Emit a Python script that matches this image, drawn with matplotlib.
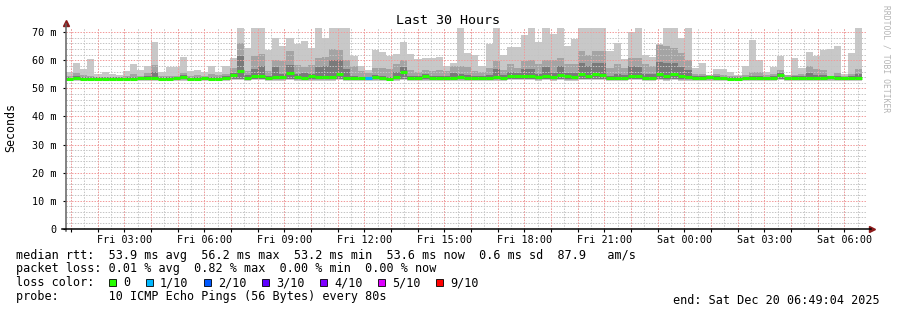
import numpy as np
import matplotlib
matplotlib.use('Agg')
import matplotlib.pyplot as plt
from matplotlib.patches import Rectangle

plt.rcParams['font.family'] = ['DejaVu Sans Mono', 'DejaVu Sans']

# --- data: one bar every 16 minutes, first bar at Fri 00:49:04 ---
# top of the smoke (slowest ping) in ms
max_rtt = [
    56.0, 59.0, 56.9, 60.5, 55.0, 56.0, 55.0, 54.8, 56.2, 58.8,
    56.6, 58.1, 66.6, 56.0, 57.5, 57.5, 61.2, 56.2, 56.6, 56.0,
    57.9, 55.8, 58.1, 60.7, 72.0, 64.5, 72.0, 72.0, 63.6, 68.1,
    65.2, 68.1, 65.7, 66.9, 64.3, 72.0, 68.1, 72.0, 72.0, 72.0,
    61.7, 57.9, 56.7, 63.8, 62.9, 61.7, 62.1, 66.4, 62.1, 60.5,
    61.0, 60.7, 61.2, 58.1, 59.0, 72.0, 62.6, 61.9, 57.9, 65.9,
    72.0, 61.9, 64.8, 64.8, 69.0, 72.0, 66.6, 72.0, 69.3, 72.0,
    65.0, 67.6, 72.0, 72.0, 72.0, 72.0, 63.3, 66.2, 60.5, 70.2,
    72.0, 61.9, 61.2, 65.9, 72.0, 72.0, 68.1, 72.0, 57.4, 59.0,
    54.8, 56.9, 56.9, 55.7, 54.8, 57.9, 67.4, 60.0, 56.0, 57.6,
    61.7, 54.8, 61.0, 57.4, 63.1, 61.4, 63.8, 64.0, 65.2, 55.0,
    62.6, 72.0,
]
# top of the second smoke band
mid_rtt = [
    54.5, 55.5, 54.6, 54.5, 54.0, 54.2, 54.0, 54.0, 54.5, 55.0,
    54.5, 55.5, 58.2, 54.3, 54.5, 54.5, 55.5, 54.5, 54.6, 54.3,
    55.0, 54.8, 55.3, 57.4, 66.0, 56.2, 61.7, 62.1, 56.2, 60.2,
    59.8, 63.3, 58.3, 57.6, 58.3, 60.9, 61.2, 64.0, 63.6, 60.2,
    58.0, 56.2, 55.5, 57.4, 57.2, 57.0, 58.6, 60.0, 56.6, 56.0,
    56.6, 56.2, 56.7, 56.2, 58.0, 58.1, 57.6, 56.2, 56.0, 57.4,
    59.8, 56.6, 58.6, 57.2, 59.8, 60.0, 58.8, 60.2, 60.2, 61.0,
    58.6, 58.6, 63.3, 61.9, 63.3, 63.3, 57.4, 58.6, 57.2, 61.0,
    61.0, 58.6, 58.1, 65.4, 65.0, 64.5, 62.6, 60.2, 55.3, 55.3,
    54.8, 55.3, 54.8, 54.5, 54.3, 54.8, 56.0, 56.0, 54.8, 55.0,
    56.6, 54.8, 54.8, 55.0, 58.0, 57.0, 56.6, 54.5, 55.5, 54.5,
    55.0, 56.8,
]
# top of the dark inner smoke band
inner_rtt = [
    54.0, 54.3, 54.0, 54.0, 53.9, 54.0, 53.9, 53.9, 54.0, 54.2,
    54.1, 54.4, 56.0, 54.0, 53.9, 54.1, 54.6, 53.9, 54.1, 54.2,
    54.2, 54.1, 54.3, 55.5, 61.5, 54.6, 57.0, 58.0, 54.4, 57.5,
    55.0, 58.5, 55.0, 55.5, 55.2, 57.5, 58.0, 60.0, 60.0, 57.0,
    54.5, 54.2, 54.2, 54.8, 54.4, 54.2, 56.0, 57.5, 54.3, 54.3,
    55.0, 54.3, 54.4, 54.3, 55.5, 55.0, 54.6, 54.3, 54.3, 54.6,
    57.0, 54.6, 56.0, 55.4, 57.0, 57.0, 55.0, 57.5, 55.5, 58.0,
    55.5, 55.5, 59.0, 58.0, 59.0, 59.0, 54.5, 55.0, 54.8, 58.0,
    57.5, 55.0, 55.0, 59.5, 59.0, 59.0, 57.5, 56.5, 54.4, 54.3,
    54.4, 54.3, 54.2, 54.0, 54.0, 54.2, 54.5, 54.5, 54.2, 54.3,
    55.5, 54.2, 54.3, 54.3, 55.5, 54.8, 54.6, 54.5, 54.3, 54.2,
    54.4, 55.2,
]
# bottom of the smoke (fastest ping)
min_rtt = [
    52.7, 52.8, 52.6, 52.6, 52.6, 52.6, 52.6, 52.7, 52.7, 52.7,
    52.8, 52.7, 52.7, 52.7, 52.6, 52.7, 52.8, 52.6, 52.7, 52.8,
    52.7, 52.7, 52.7, 52.9, 53.0, 52.8, 52.9, 52.9, 52.7, 52.8,
    52.8, 53.0, 52.8, 52.7, 52.8, 52.8, 52.8, 52.8, 52.9, 52.7,
    52.7, 52.7, 52.7, 52.8, 52.7, 52.6, 52.8, 53.0, 52.7, 52.7,
    52.8, 52.7, 52.7, 52.7, 52.7, 52.8, 52.8, 52.7, 52.7, 52.7,
    52.8, 52.8, 52.9, 52.9, 52.9, 52.9, 52.8, 52.9, 52.8, 52.9,
    52.8, 52.8, 53.0, 52.9, 53.0, 52.9, 52.7, 52.8, 52.8, 52.9,
    52.9, 52.8, 52.8, 52.9, 52.8, 52.9, 52.8, 52.8, 52.8, 52.7,
    52.7, 52.7, 52.7, 52.6, 52.6, 52.7, 52.7, 52.7, 52.7, 52.7,
    52.9, 52.7, 52.7, 52.7, 52.7, 52.7, 52.7, 52.8, 52.7, 52.7,
    52.7, 52.7,
]
# median rtt in ms
median_rtt = [
    53.4, 53.7, 53.4, 53.4, 53.4, 53.4, 53.4, 53.5, 53.5, 53.5,
    53.6, 53.6, 53.6, 53.5, 53.3, 53.6, 54.0, 53.3, 53.5, 53.7,
    53.5, 53.5, 53.6, 54.7, 56.1, 53.8, 54.4, 54.4, 53.6, 54.0,
    53.9, 55.4, 54.0, 53.6, 54.3, 54.0, 53.9, 53.9, 55.0, 53.6,
    53.6, 53.6, 53.6, 53.9, 53.6, 53.4, 54.0, 56.0, 53.6, 53.6,
    54.3, 53.6, 53.6, 53.6, 53.6, 53.9, 53.8, 53.6, 53.6, 53.6,
    54.0, 53.8, 54.5, 54.5, 54.5, 54.5, 53.9, 54.5, 54.2, 54.8,
    54.3, 54.2, 55.3, 54.5, 55.3, 54.8, 53.6, 53.8, 53.8, 54.5,
    54.5, 53.8, 53.8, 55.0, 54.3, 55.3, 54.4, 54.2, 53.8, 53.6,
    53.9, 53.6, 53.6, 53.4, 53.4, 53.6, 53.6, 53.6, 53.6, 53.6,
    54.8, 53.6, 53.6, 53.6, 53.6, 53.6, 53.6, 54.0, 53.8, 53.6,
    53.6, 53.6,
]
# lost pings (out of 10) per bar
lost_pings = [
    0, 0, 0, 0, 0, 0, 0, 0, 0, 0, 0, 0, 0, 0, 0, 0, 0, 0, 0, 0,
    0, 0, 0, 0, 0, 0, 0, 0, 0, 0, 0, 0, 0, 0, 0, 0, 0, 0, 0, 0,
    0, 0, 1, 0, 0, 0, 0, 0, 0, 0, 0, 0, 0, 0, 0, 0, 0, 0, 0, 0,
    0, 0, 0, 0, 0, 0, 0, 0, 0, 0, 0, 0, 0, 0, 0, 0, 0, 0, 0, 0,
    0, 0, 0, 0, 0, 0, 0, 0, 0, 0, 0, 0, 0, 0, 0, 0, 0, 0, 0, 0,
    0, 0, 0, 0, 0, 0, 0, 0, 0, 0, 0, 0,
]

loss_labels = ['0', '1/10', '2/10', '3/10', '4/10', '5/10', '9/10']
loss_colors = ['#26ff00', '#00b8ff', '#0059ff', '#5e00ff', '#7e00ff', '#dd00ff', '#ff0000']

time_labels = ['Fri 03:00', 'Fri 06:00', 'Fri 09:00', 'Fri 12:00', 'Fri 15:00',
               'Fri 18:00', 'Fri 21:00', 'Sat 00:00', 'Sat 03:00', 'Sat 06:00']
y_labels = ['0', '10 m', '20 m', '30 m', '40 m', '50 m', '60 m', '70 m']

stats_lines = [
    'median rtt:  53.9 ms avg  56.2 ms max  53.2 ms min  53.6 ms now  0.6 ms sd  87.9   am/s',
    'packet loss: 0.01 % avg  0.82 % max  0.00 % min  0.00 % now',
]
probe_text = 'probe:       10 ICMP Echo Pings (56 Bytes) every 80s'
end_text = 'end: Sat Dec 20 06:49:04 2025'

# --- layout ---
W, H = 897, 310
step = 16 / 60          # hours per bar
first_hour = 11 / 60 - 4 / 3600   # Fri 01:00 measured from Fri 00:49:04

fig = plt.figure(figsize=(W / 100, H / 100), dpi=100)
fig.patch.set_facecolor('white')
ax = fig.add_axes([66 / W, 1 - 228.7 / H, 800 / W, 201 / H])

t0 = np.arange(len(median_rtt)) * step
lo = np.array(min_rtt)
ax.bar(t0, np.array(max_rtt) - lo, bottom=lo, width=step, align='edge',
       color='#c8c8c8', linewidth=0, antialiased=False, zorder=1)
ax.bar(t0, np.array(mid_rtt) - lo - 0.3, bottom=lo + 0.3, width=step, align='edge',
       color='#a4a4a4', linewidth=0, antialiased=False, zorder=1.1)
ax.bar(t0, np.array(inner_rtt) - lo - 0.5, bottom=lo + 0.5, width=step, align='edge',
       color='#7a7a7a', linewidth=0, antialiased=False, zorder=1.2)
bar_colors = [loss_colors[n] for n in lost_pings]
ax.hlines(median_rtt, t0, t0 + step, colors=bar_colors, linewidth=2.2, zorder=4)

ax.set_xlim(0, 30)
ax.set_ylim(0, 71.63)

# grid (drawn over the smoke like rrdtool)
dot = (0, (1.4, 1.4))
for y in np.arange(2, 71, 2):
    if y % 10:
        ax.axhline(y, color='#c4c4c4', lw=0.72, ls=dot, zorder=2.5)
for y in range(10, 71, 10):
    ax.axhline(y, color='#f29a9a', lw=0.72, ls=dot, zorder=2.6)
half_hours = first_hour - 0.5 + np.arange(0, 61) * 0.5
for x in half_hours:
    if 0 < x < 30:
        ax.axvline(x, color='#c4c4c4', lw=0.72, ls=dot, zorder=2.5)
hours = first_hour + np.arange(0, 30)
for x in hours:
    ax.axvline(x, color='#f29a9a', lw=0.72, ls=dot, zorder=2.6)

label_pos = first_hour + 2 + 3 * np.arange(len(time_labels))
ax.set_xticks(label_pos, time_labels)
ax.set_xticks(hours, minor=True)
ax.set_yticks(range(0, 71, 10), y_labels)
ax.tick_params(axis='x', which='both', length=2.5, width=0.8, pad=2, labelsize=7.3, colors='black')
ax.tick_params(axis='y', length=2.5, width=0.8, pad=4, labelsize=7.3)

for s in ax.spines.values():
    s.set_visible(False)
ax.plot([0, 0], [-0.01, 1.02], transform=ax.transAxes, color='#606060', lw=1.1, clip_on=False, zorder=5)
ax.plot([-0.005, 1.006], [0, 0], transform=ax.transAxes, color='black', lw=1.1, clip_on=False, zorder=5)
ax.plot([0], [1.025], marker='^', ms=4.5, color='#8b1a1a', transform=ax.transAxes, clip_on=False)
ax.plot([1.007], [0], marker='>', ms=4.5, color='#8b1a1a', transform=ax.transAxes, clip_on=False)

# texts around the plot
fig.text(448 / W, 1 - 20 / H, 'Last 30 Hours', ha='center', va='center', fontsize=9.6)
fig.text(11 / W, 1 - 127 / H, 'Seconds', rotation=90, ha='center', va='center', fontsize=8.4)
fig.text(886 / W, 1 - 5 / H, 'RRDTOOL / TOBI OETIKER', rotation=270, ha='center', va='top',
         fontsize=5.8, color='#b4b4b4')

fs = 8.5
for i, line in enumerate(stats_lines):
    fig.text(16 / W, 1 - (255 + 13.7 * i) / H, line, ha='left', va='center', fontsize=fs)
fig.text(16 / W, 1 - 282.7 / H, 'loss color:', ha='left', va='center', fontsize=fs)
x = 109.3
for lab, col in zip(loss_labels, loss_colors):
    fig.patches.append(Rectangle((x / W, 1 - 285.8 / H), 6.5 / W, 6.5 / H,
                                 facecolor=col, edgecolor='black', lw=0.6,
                                 transform=fig.transFigure, figure=fig))
    fig.text((x + 14) / W, 1 - 282.7 / H, lab, ha='left', va='center', fontsize=fs)
    x += 14 + len(lab) * 7.1 + 15.6
fig.text(16 / W, 1 - 296.7 / H, probe_text, ha='left', va='center', fontsize=fs)
fig.text(880 / W, 1 - 300.7 / H, end_text, ha='right', va='center', fontsize=fs)

fig.savefig('out.png', dpi=100)
